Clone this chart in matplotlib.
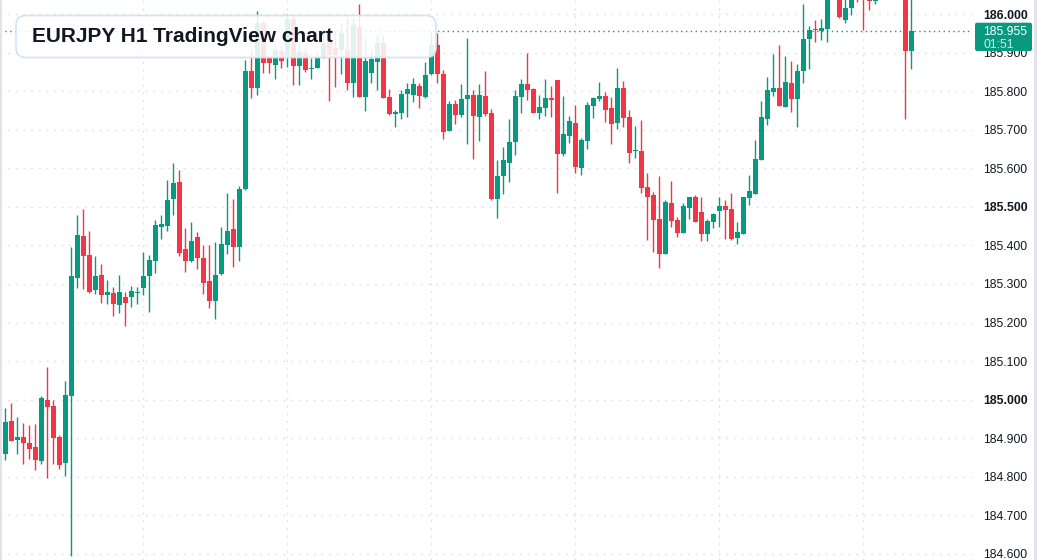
import numpy as np
import matplotlib
matplotlib.use("Agg")
import matplotlib.pyplot as plt
from matplotlib.patches import FancyBboxPatch, Rectangle
from matplotlib.transforms import IdentityTransform

# EURJPY H1 candles (prices)
opens = [
    184.859, 184.945, 184.895, 184.903, 184.887, 184.877, 184.842, 184.999, 184.983, 184.903,
    184.836, 185.010, 185.316, 185.424, 185.375, 185.285, 185.323, 185.272, 185.276, 185.246,
    185.266, 185.267, 185.276, 185.290, 185.321, 185.360, 185.448, 185.451, 185.521, 185.564,
    185.390, 185.360, 185.421, 185.367, 185.308, 185.256, 185.326, 185.401, 185.442, 185.396,
    185.545, 185.852, 185.809, 185.976, 185.885, 185.868, 185.904, 185.891, 185.987, 185.866,
    185.898, 185.857, 185.861, 185.888, 185.932, 185.912, 185.906, 185.906, 185.820, 185.967,
    185.786, 185.848, 185.876, 185.924, 185.786, 185.742, 185.744, 185.792, 185.790, 185.813,
    185.786, 185.844, 185.919, 185.844, 185.697, 185.766, 185.738, 185.779, 185.790, 185.734,
    185.787, 185.744, 185.520, 185.580, 185.614, 185.669, 185.786, 185.818, 185.805, 185.744,
    185.757, 185.782, 185.829, 185.638, 185.684, 185.717, 185.601, 185.671, 185.762, 185.779,
    185.787, 185.756, 185.718, 185.808, 185.733, 185.644, 185.645, 185.551, 185.530, 185.468,
    185.378, 185.510, 185.466, 185.433, 185.498, 185.525, 185.486, 185.430, 185.461, 185.490,
    185.502, 185.494, 185.420, 185.430, 185.524, 185.534, 185.622, 185.728, 185.798, 185.808,
    185.759, 185.821, 185.780, 185.852, 185.936, 185.960, 185.956, 185.962, 186.050, 186.070,
    185.984, 186.016, 186.060, 186.065, 186.060, 186.034, 186.060, 186.080, 186.070, 186.090,
    186.080, 185.905,
]
highs = [
    184.978, 184.992, 184.955, 184.940, 184.934, 184.937, 185.009, 185.085, 184.999, 184.908,
    185.049, 185.395, 185.479, 185.494, 185.437, 185.372, 185.352, 185.310, 185.292, 185.323,
    185.279, 185.296, 185.292, 185.383, 185.376, 185.466, 185.478, 185.569, 185.614, 185.595,
    185.444, 185.460, 185.435, 185.400, 185.401, 185.409, 185.447, 185.536, 185.520, 185.554,
    185.880, 185.909, 186.008, 185.984, 185.893, 185.919, 185.917, 186.000, 185.997, 185.919,
    185.912, 185.886, 185.899, 185.953, 185.958, 185.958, 185.976, 185.989, 185.990, 186.026,
    185.938, 185.906, 185.945, 185.945, 185.805, 185.751, 185.803, 185.820, 185.833, 185.820,
    185.876, 185.954, 185.950, 185.855, 185.774, 185.777, 185.818, 185.938, 185.803, 185.818,
    185.852, 185.754, 185.621, 185.654, 185.729, 185.803, 185.831, 185.900, 185.807, 185.790,
    185.831, 185.813, 185.830, 185.787, 185.735, 185.765, 185.678, 185.772, 185.785, 185.823,
    185.798, 185.785, 185.860, 185.826, 185.751, 185.709, 185.725, 185.588, 185.538, 185.580,
    185.518, 185.567, 185.474, 185.510, 185.526, 185.530, 185.525, 185.468, 185.484, 185.525,
    185.518, 185.536, 185.460, 185.526, 185.582, 185.673, 185.774, 185.836, 185.896, 185.919,
    185.891, 185.878, 185.870, 186.026, 185.969, 185.984, 185.987, 186.049, 186.090, 186.090,
    186.050, 186.060, 186.070, 186.075, 186.070, 186.070, 186.095, 186.110, 186.100, 186.120,
    186.090, 186.040,
]
lows = [
    184.843, 184.892, 184.859, 184.833, 184.846, 184.817, 184.833, 184.797, 184.833, 184.821,
    184.802, 184.595, 185.290, 185.288, 185.276, 185.274, 185.250, 185.248, 185.218, 185.225,
    185.192, 185.241, 185.248, 185.272, 185.227, 185.329, 185.417, 185.438, 185.479, 185.373,
    185.332, 185.358, 185.339, 185.275, 185.238, 185.208, 185.324, 185.378, 185.345, 185.360,
    185.543, 185.783, 185.791, 185.846, 185.846, 185.832, 185.861, 185.863, 185.816, 185.817,
    185.849, 185.831, 185.860, 185.886, 185.775, 185.810, 185.844, 185.803, 185.786, 185.785,
    185.749, 185.822, 185.803, 185.782, 185.738, 185.706, 185.728, 185.734, 185.772, 185.757,
    185.781, 185.843, 185.820, 185.676, 185.696, 185.715, 185.734, 185.663, 185.625, 185.671,
    185.735, 185.518, 185.472, 185.533, 185.565, 185.634, 185.744, 185.777, 185.744, 185.728,
    185.736, 185.734, 185.537, 185.632, 185.666, 185.588, 185.583, 185.651, 185.731, 185.774,
    185.721, 185.664, 185.703, 185.708, 185.614, 185.627, 185.537, 185.415, 185.383, 185.342,
    185.377, 185.448, 185.422, 185.432, 185.469, 185.461, 185.412, 185.412, 185.446, 185.448,
    185.417, 185.415, 185.404, 185.429, 185.505, 185.533, 185.621, 185.713, 185.788, 185.761,
    185.758, 185.746, 185.708, 185.822, 185.858, 185.928, 185.932, 185.928, 186.042, 185.990,
    185.977, 185.997, 186.032, 185.958, 186.010, 186.026, 186.045, 186.060, 186.050, 186.070,
    185.728, 185.857,
]
closes = [
    184.942, 184.893, 184.903, 184.888, 184.873, 184.844, 185.004, 184.982, 184.901, 184.831,
    185.012, 185.320, 185.427, 185.373, 185.279, 185.320, 185.271, 185.279, 185.249, 185.279,
    185.251, 185.282, 185.279, 185.322, 185.362, 185.453, 185.455, 185.518, 185.562, 185.380,
    185.360, 185.411, 185.367, 185.303, 185.256, 185.323, 185.404, 185.437, 185.396, 185.546,
    185.852, 185.809, 185.976, 185.874, 185.874, 185.907, 185.879, 185.987, 185.866, 185.902,
    185.855, 185.860, 185.885, 185.925, 185.893, 185.893, 185.952, 185.822, 185.971, 185.786,
    185.878, 185.883, 185.924, 185.783, 185.742, 185.744, 185.792, 185.805, 185.818, 185.787,
    185.842, 185.919, 185.844, 185.695, 185.766, 185.738, 185.779, 185.790, 185.735, 185.790,
    185.740, 185.520, 185.580, 185.621, 185.668, 185.787, 185.818, 185.803, 185.744, 185.759,
    185.782, 185.778, 185.638, 185.689, 185.722, 185.604, 185.673, 185.764, 185.782, 185.787,
    185.751, 185.715, 185.808, 185.731, 185.640, 185.646, 185.549, 185.526, 185.466, 185.378,
    185.512, 185.464, 185.433, 185.502, 185.525, 185.462, 185.430, 185.463, 185.481, 185.502,
    185.492, 185.417, 185.435, 185.525, 185.541, 185.624, 185.734, 185.803, 185.808, 185.762,
    185.823, 185.780, 185.852, 185.935, 185.958, 185.958, 185.963, 186.041, 186.075, 185.993,
    186.015, 186.045, 186.045, 186.040, 186.034, 186.060, 186.080, 186.070, 186.090, 186.080,
    185.905, 185.955,
]
last_price = 185.955
countdown = "01:51"
price_ticks = [184.6, 184.7, 184.8, 184.9, 185.0, 185.1, 185.2, 185.3, 185.4, 185.5,
               185.6, 185.7, 185.8, 185.9, 186.0]
bold_ticks = [185.0, 185.5, 186.0]
day_marks = [23, 47, 71, 95, 119, 143]

up_color = "#089981"
down_color = "#F23645"
text_color = "#131722"

fig = plt.figure(figsize=(10.37, 5.6), dpi=100)
ax = fig.add_axes([0, 0, 972 / 1037, 1])

o = np.array(opens)
c = np.array(closes)
x = np.arange(len(o))
colors = [up_color if cc >= oo else down_color for oo, cc in zip(o, c)]

ax.vlines(x, lows, highs, color=colors, linewidth=1, zorder=3)
body_bottom = np.minimum(o, c)
body_height = np.maximum(np.abs(c - o), 0.0028)
ax.bar(x, body_height, bottom=body_bottom, width=0.75, color=colors, linewidth=0, zorder=4)

ax.axhline(last_price, color=up_color, linewidth=1, linestyle=(0, (1, 2.5)), zorder=2)

ax.set_xlim(-0.883, -0.883 + 972 / 6)
ax.set_ylim(184.5844, 186.0363)
ax.set_xticks(day_marks)
ax.set_yticks(price_ticks)
ax.set_yticklabels([f"{t:.3f}" for t in price_ticks])
ax.yaxis.tick_right()
ax.tick_params(axis="y", length=0, pad=8, labelsize=8.8, labelcolor=text_color)
ax.tick_params(axis="x", length=0, labelbottom=False)
for lab, t in zip(ax.get_yticklabels(), price_ticks):
    lab.set_fontfamily("Liberation Sans")
    if t in bold_ticks:
        lab.set_fontweight("bold")
ax.grid(True, color="#e0e3ea", linewidth=1, linestyle=(0, (1.5, 4)), zorder=0)
for s in ax.spines.values():
    s.set_visible(False)

px = IdentityTransform()

# title box over the chart
box = FancyBboxPatch((16, 560 - 57.5), 420, 42, boxstyle="round,pad=0,rounding_size=10",
                     transform=px, facecolor="white", alpha=0.88, edgecolor="none", zorder=5)
fig.add_artist(box)
edge = FancyBboxPatch((16, 560 - 57.5), 420, 42, boxstyle="round,pad=0,rounding_size=10",
                      transform=px, facecolor="none", edgecolor="#d3e3f5", linewidth=1.2, zorder=6)
fig.add_artist(edge)
fig.text(32, 560 - 37, "EURJPY H1 TradingView chart", transform=px, fontsize=15,
         fontweight="bold", family="Liberation Sans", color=text_color, va="center", zorder=7)

# last price tag
tag = FancyBboxPatch((975, 560 - 51), 57, 28.3, boxstyle="round,pad=0,rounding_size=2",
                     transform=px, facecolor=up_color, edgecolor="none", zorder=5)
fig.add_artist(tag)
fig.text(983, 560 - 32, f"{last_price:.3f}", transform=px, fontsize=8.8,
         family="Liberation Sans", color="white", va="center", zorder=7)
fig.text(983, 560 - 45.5, countdown, transform=px, fontsize=8.8,
         family="Liberation Sans", color="#cdebe5", va="center", zorder=7)

# scale borders
fig.add_artist(Rectangle((0, 0), 1.5, 560, transform=px, facecolor="#e0e3eb",
                         edgecolor="none", zorder=5))
fig.add_artist(Rectangle((1034, 0), 3, 560, transform=px, facecolor="#e0e3eb",
                         edgecolor="none", zorder=5))

plt.savefig("out.png", dpi=100)
plt.close()
